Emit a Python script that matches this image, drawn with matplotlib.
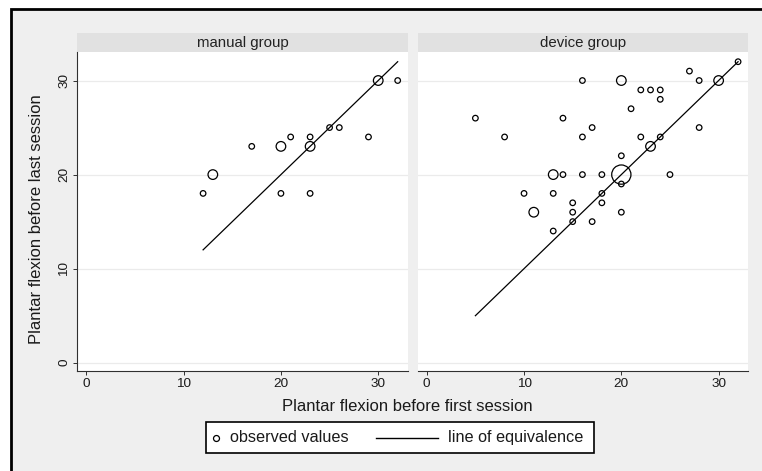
import matplotlib
matplotlib.use("Agg")
import matplotlib.pyplot as plt
from matplotlib.patches import Rectangle
from matplotlib.lines import Line2D
import numpy as np

plt.rcParams['font.family'] = ['Liberation Sans', 'DejaVu Sans']

# data: plantar flexion before first session (x) / before last session (y), frequency
manual_x = [12, 13, 17, 20, 21, 23, 23, 20, 23, 25, 26, 29, 30, 32]
manual_y = [18, 20, 23, 23, 24, 24, 23, 18, 18, 25, 25, 24, 30, 30]
manual_n = [1, 3, 1, 3, 1, 1, 3, 1, 1, 1, 1, 1, 3, 1]

device_x = [5, 8, 10, 11, 13, 13, 13, 14, 14, 15, 15, 15, 16, 16, 16, 17, 17, 18, 18, 18,
            20, 20, 20, 20, 20, 21, 22, 22, 23, 23, 24, 24, 24, 25, 27, 28, 28, 30, 32]
device_y = [26, 24, 18, 16, 20, 18, 14, 26, 20, 17, 16, 15, 30, 24, 20, 25, 15, 20, 18, 17,
            30, 22, 20, 19, 16, 27, 29, 24, 29, 23, 29, 28, 24, 20, 31, 30, 25, 30, 32]
device_n = [1, 1, 1, 3, 3, 1, 1, 1, 1, 1, 1, 1, 1, 1, 1, 1, 1, 1, 1, 1,
            3, 1, 12, 1, 1, 1, 1, 1, 1, 3, 1, 1, 1, 1, 1, 1, 1, 3, 1]

groups = ['manual group', 'device group']
ticks = [0, 10, 20, 30]

W, H = 762, 471
bg = '#efefef'


def fx(px):
    return px / W


def fy(py):
    return 1 - py / H


fig = plt.figure(figsize=(W / 100, H / 100), dpi=100)
fig.patch.set_facecolor('white')
# gray plot region with black frame (top/left visible)
fig.add_artist(Rectangle((fx(11), -0.1), 1.2, fy(9) + 0.1, transform=fig.transFigure,
                         facecolor=bg, edgecolor='black', lw=2, zorder=-10))

panels = [(77.3, manual_x, manual_y, manual_n), (417.7, device_x, device_y, device_n)]
for i, (left, xs, ys, ns) in enumerate(panels):
    ax = fig.add_axes([fx(left), fy(371), 330.4 / W, 318.7 / H])
    ax.set_facecolor('white')
    ax.set_xlim(-0.93, 33.03)
    ax.set_ylim(-0.88, 33.0)
    ax.set_xticks(ticks)
    ax.set_yticks(ticks)
    ax.grid(True, axis='y', color='#ebebeb', lw=0.9)
    ax.set_axisbelow(True)
    for s in ['top', 'right']:
        ax.spines[s].set_visible(False)
    ax.spines['bottom'].set_color('#303030')
    ax.spines['left'].set_color('#303030')
    ax.spines['bottom'].set_linewidth(0.8)
    ax.spines['left'].set_linewidth(0.8)
    ax.tick_params(direction='out', length=3, width=0.7, color='#303030',
                   labelsize=9.7, pad=2, labelcolor='#1a1a1a')
    if i == 0:
        for lab in ax.get_yticklabels():
            lab.set_rotation(90)
            lab.set_va('center')
    else:
        ax.spines['left'].set_visible(False)
        ax.tick_params(axis='y', left=False, labelleft=False)

    # line of equivalence over observed range
    lo, hi = min(xs), max(xs)
    ax.plot([lo, hi], [lo, hi], color='black', lw=0.9, zorder=2)
    ax.scatter(xs, ys, s=np.array(ns) * 16, facecolors='none', edgecolors='black',
               linewidths=0.9, zorder=3)

    # strip header
    ax.add_patch(Rectangle((0, 1), 1, 19 / 318.7, transform=ax.transAxes,
                           facecolor='#e1e1e1', edgecolor='none', clip_on=False))
    ax.text(0.5, 1 + 9.5 / 318.7, groups[i], transform=ax.transAxes,
            ha='center', va='center', fontsize=10.8, color='#222222')

fig.text(fx(36.5), fy(219), 'Plantar flexion before last session', rotation=90,
         ha='center', va='center', fontsize=12, color='#1a1a1a')
fig.text(fx(407), fy(406.5), 'Plantar flexion before first session',
         ha='center', va='center', fontsize=12, color='#1a1a1a')

# legend
fig.add_artist(Rectangle((fx(206), fy(453)), (594 - 206) / W, (453 - 422) / H,
                         transform=fig.transFigure, facecolor='white',
                         edgecolor='black', lw=1.2))
fig.add_artist(Line2D([fx(216)], [fy(437.5)], marker='o', ms=4.3, mfc='none',
                      mec='black', mew=0.9, ls='none', transform=fig.transFigure))
fig.text(fx(230), fy(437.5), 'observed values', ha='left', va='center',
         fontsize=11.7, color='#1a1a1a')
fig.add_artist(Line2D([fx(376), fx(438)], [fy(437.5), fy(437.5)], color='black',
                      lw=1.0, transform=fig.transFigure))
fig.text(fx(448), fy(437.5), 'line of equivalence', ha='left', va='center',
         fontsize=11.7, color='#1a1a1a')

fig.savefig('out.png', dpi=100, facecolor=fig.get_facecolor())
